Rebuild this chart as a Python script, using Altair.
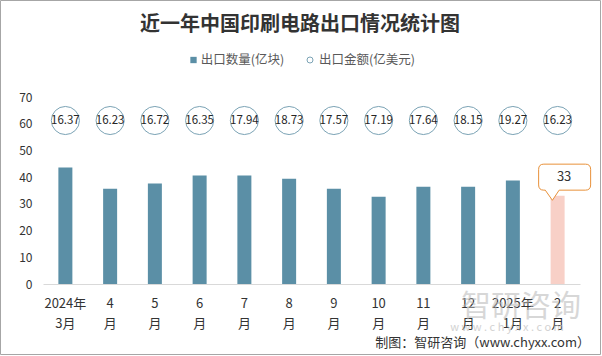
import altair as alt
import pandas as pd

FONT = "Noto Sans CJK SC"

months = ["2024年|3月", "4|月", "5|月", "6|月", "7|月", "8|月", "9|月", "10|月",
          "11|月", "12|月", "2025年|1月", "2|月"]
qty = [43.6, 35.7, 37.6, 40.6, 40.6, 39.4, 35.7, 32.7, 36.4, 36.4, 38.7, 33]
amount = [16.37, 16.23, 16.72, 16.35, 17.94, 18.73, 17.57, 17.19, 17.64, 18.15, 19.27, 16.23]
y_ticks = [0, 10, 20, 30, 40, 50, 60, 70]

title_text = "近一年中国印刷电路出口情况统计图"
legend_labels = ["出口数量(亿块)", "出口金额(亿美元)"]
source_text = "制图：智研咨询（www.chyxx.com）"

df = pd.DataFrame({"month": months, "qty": qty, "amount": amount})
last_month = months[-1]
one = pd.DataFrame({"k": [0]})

BLUE = "#5b8fa6"
PINK = "#f8d0c7"
RING = "#7ba3b5"
ORANGE = "#e8913a"

yscale = alt.Scale(domain=[0, 70], nice=False, zero=True)
yax = alt.Axis(title=None, values=y_ticks, domain=False, ticks=False, grid=False,
               labelFontSize=12, labelColor="#333333", labelPadding=11, labelFont=FONT)
xscale = alt.Scale(paddingInner=0, paddingOuter=0)
xax = alt.Axis(title=None, labelAngle=0, labelExpr="split(datum.label, '|')",
               labelFontSize=13, labelColor="#333333", labelLineHeight=20,
               labelPadding=13, ticks=False, domainColor="#d9d9d9", grid=False,
               labelFont=FONT)

X = alt.X("month:N", sort=months, scale=xscale, axis=xax)

base = alt.Chart(df)

bars = base.mark_bar(size=14).encode(
    x=X,
    y=alt.Y("qty:Q", scale=yscale, axis=yax),
    color=alt.condition(alt.datum.month == last_month, alt.value(PINK), alt.value(BLUE)),
)

rings = base.mark_point(shape="circle", size=790, filled=True, fill="white",
                        stroke=RING, strokeWidth=1, opacity=1).encode(
    x=X,
    y=alt.YDatum(61.2, scale=yscale, axis=yax, type="quantitative"),
)

ring_text = base.mark_text(fontSize=11.5, color="#262626", font=FONT, baseline="middle").encode(
    x=X,
    y=alt.YDatum(61.2, scale=yscale, axis=yax, type="quantitative"),
    text=alt.Text("amount:Q", format=".2f"),
)

callout_path = ("M -0.8 -0.5 L 0.8 -0.5 Q 1 -0.5 1 -0.3 L 1 0.3 Q 1 0.5 0.8 0.5 "
                "L -0.21 0.5 L -0.47 0.89 L -0.745 0.5 L -0.8 0.5 Q -1 0.5 -1 0.3 "
                "L -1 -0.3 Q -1 -0.5 -0.8 -0.5 Z")

callout = base.transform_filter(alt.datum.month == last_month).mark_point(
    shape=callout_path, size=2704, filled=True, fill="white", stroke=ORANGE,
    strokeWidth=1, opacity=1, xOffset=7, yOffset=-18.7).encode(
    x=X, y=alt.Y("qty:Q", scale=yscale, axis=yax))

callout_text = base.transform_filter(alt.datum.month == last_month).mark_text(
    fontSize=13, color="#333333", font=FONT, xOffset=6.5, yOffset=-18.7,
    baseline="middle").encode(
    x=X, y=alt.Y("qty:Q", scale=yscale, axis=yax), text=alt.Text("qty:Q", format="d"))

deco = alt.Chart(one)

title = deco.mark_text(text=title_text, fontSize=20, fontWeight="bold", font=FONT,
                       color="#333333", baseline="middle", align="center").encode(
    x=alt.value(257), y=alt.value(-72))

leg_sq = deco.mark_point(shape="square", size=40, filled=True, color=BLUE, opacity=1).encode(
    x=alt.value(150.5), y=alt.value(-37))
leg_t1 = deco.mark_text(text=legend_labels[0], fontSize=12.5, font=FONT, color="#595959",
                        align="left", baseline="middle").encode(
    x=alt.value(157.7), y=alt.value(-37))
leg_ci = deco.mark_point(shape="circle", size=36, filled=False, stroke=RING,
                         strokeWidth=1, opacity=1).encode(
    x=alt.value(267), y=alt.value(-37))
leg_t2 = deco.mark_text(text=legend_labels[1], fontSize=12.5, font=FONT, color="#595959",
                        align="left", baseline="middle").encode(
    x=alt.value(276), y=alt.value(-37))

wm1 = deco.mark_text(text="智研咨询", fontSize=30, font=FONT, color="#b8b8b8",
                     opacity=0.55, align="center", baseline="middle").encode(
    x=alt.value(478), y=alt.value(210))
wm2 = deco.mark_text(text="w w w . c h y x x . c o m", fontSize=11, font=FONT, color="#c0c0c0",
                     opacity=0.7, align="center", baseline="middle").encode(
    x=alt.value(464), y=alt.value(231))

source = deco.mark_text(text=source_text, fontSize=13, font=FONT, color="#333333",
                        align="right", baseline="middle").encode(
    x=alt.value(547), y=alt.value(246))

border = deco.mark_rect(fillOpacity=0, stroke="#a6a6a6", strokeWidth=1).encode(
    x=alt.value(-42.5), x2=alt.value(557.5), y=alt.value(-96.5), y2=alt.value(257.5))

chart = alt.layer(
    bars, rings, ring_text, callout, callout_text,
    title, leg_sq, leg_t1, leg_ci, leg_t2, wm1, wm2, source, border
).properties(
    width=537, height=187,
    padding={"left": 43, "top": 97, "right": 22, "bottom": 72},
    autosize=alt.AutoSizeParams(type="none"),
    background="white",
).configure_view(stroke=None)

chart.save("out.html", embed_options={"renderer": "svg", "actions": False})
